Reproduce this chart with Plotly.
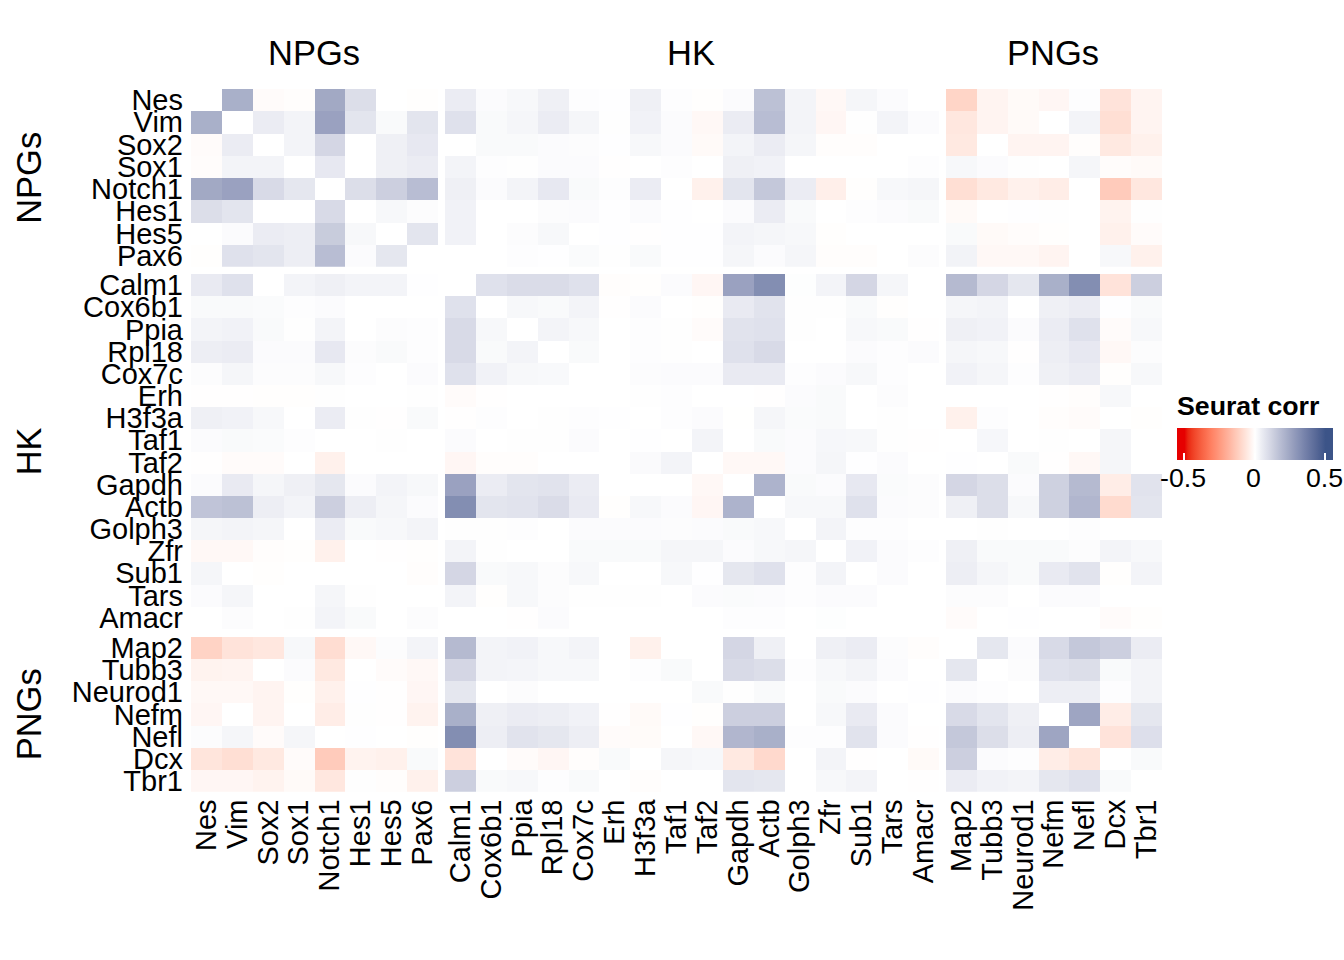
import numpy as np
import plotly.graph_objects as go

npgs = ["Nes","Vim","Sox2","Sox1","Notch1","Hes1","Hes5","Pax6"]
hk = ["Calm1","Cox6b1","Ppia","Rpl18","Cox7c","Erh","H3f3a","Taf1","Taf2","Gapdh","Actb","Golph3","Zfr","Sub1","Tars","Amacr"]
pngs = ["Map2","Tubb3","Neurod1","Nefm","Nefl","Dcx","Tbr1"]
group_names = ["NPGs","HK","PNGs"]
legend_title = "Seurat corr"
legend_ticks = [-0.5, 0, 0.5]
legend_ticklabels = ["-0.5","0","0.5"]

# correlation x 100, one list per gene
nes = [0,22,-1,-0.5,24,9,0,-0.3, 5,1,2,4,0.5,0.2,4,0.5, -0.3,1,17,3,-1.7,2.5,1,0, -10.5,-2.7,-1.3,-2.2,0.5,-7,-2.7]
vim = [22,0,5,3,26,7,1.5,7, 8,1.5,2.5,5,2.5,0.3,3.5,1, -1.7,5,18,3,-2.2,0.3,3,1, -6,-2.7,-1.3,0,3,-8,-2.7]
sox2 = [-1,5,0,3,11,0,4,6, 0,1.5,1.5,1,0.8,0.2,2,1, -1.3,3,5,2.5,-0.6,-0.6,0,0, -5.5,0,-2.7,-2.7,-0.6,-5.5,-3.5]
sox1 = [-0.8,3,3,0,6,0,4,5, 3,0.5,0.3,1,1,-0.2,0,0.5, 0,4,3.5,0,0,0,0,0.5, 2,1,0.3,0,2.5,-0.7,-1.3]
notch1 = [24,26,10,6.5,0,9,13,18, 4,1,3,6,1.5,0.5,5,0, -3.5,7,15,5,-4,-0.3,2,2.5, -8,-5.5,-3.5,-4.5,0,-13,-6]
hes1 = [9,7,0,0,10,0,2,0.8, 3.5,0,0,0.8,1,0.2,1,0.2, 0,1,5,1.5,0,0.5,1,1.5, -1.3,0,0.2,0.3,0,-3,0.3]
hes5 = [0,1,5,4.5,14,2,0,7, 3.5,0,0.7,2,0,0.2,-0.2,0.2, 0.2,3,2.5,2,-0.3,0,0,0, 1.5,-1.3,-0.7,-0.3,0,-3.5,-0.9]
pax6 = [-0.3,8,7,4.5,18,1,6.5,0, 0,0,0.5,0.2,1.2,0.3,1.5,0.2, 0.2,2.5,1,2.5,-0.5,-0.5,0,0.7, 3.2,-1.7,-1.7,-2.7,0,2,-3.5]
calm1 = [5.5,8,0,3,4,3,3,0.2, 0,8,9.5,9.5,8,-0.5,-0.3,1, -2.2,26,32,0.4,3,11,2.5,0, 19,11,6.5,22,32,-7,13]
cox6b1 = [1.5,1.5,1.2,0.5,1,0,0,0, 8,0,2,1.5,3,-0.2,1,0, -0.3,5.5,7.5,0.3,0.3,1.5,-0.3,0, 2.5,3,0,4,5,0.2,1.5]
ppia = [3,3.5,1.5,0.3,3,0,0.8,0.5, 10,2,0,3,2,0,0.5,0.3, -0.9,7.5,8,0.3,0,2,1.5,-0.2, 4,3.5,1,5,8,-0.9,2]
rpl18 = [4.5,5,1,1,6,0.7,1.5,0.5, 10,1.5,3,0,1.5,0,0.5,0.3, 0,8,10,0,0,1,0.5,1, 2.5,2,-0.2,4.5,6,-1.7,0.7]
cox7c = [0.8,2.5,0.8,0.7,2,0.5,0,1, 8,3.5,2,1.7,0,0,0.8,1, 1,5.5,5.5,0.5,1,2,0.5,0, 3.5,2.5,0.5,4,5,-0.3,2]
erh = [-0.2,-0.2,-0.3,-0.3,0.3,0,0,0.3, -0.9,-0.2,0,0,0,0,0.3,0.5, 0,0,-0.2,1,1.5,0,0.7,0, 0,0,0,-0.2,-0.5,2,0]
h3f3a = [4,3.5,2,0,5,0.3,-0.2,1.5, -0.2,0.5,0,0.3,0.5,0.2,0,0.5, 1,-0.1,2.5,1.2,1.5,0,0.3,0, -3.5,0.5,0,-0.6,-0.9,0,-0.3]
taf1 = [1,1.5,1.2,0.5,0,0,0.3,0, 1,0,0.3,0.3,1,0,0.2,0, 3,0,1.5,1,2.2,2,0.3,-0.2, 0,2.2,0,0.3,0,2.5,0]
taf2 = [-0.2,-0.9,-0.9,0,-3.5,0,0,0, -2.2,-0.5,-0.6,0,0,0,1.3,3, 0,-1.7,-1.7,1,2.5,0.2,1,0, 0.2,0,1.5,-0.2,-1.7,2.5,0]
gapdh = [1,5.5,2.5,4,6.5,1,3,2, 26,5,7,7.5,5,0,0,0, -1.7,0,21,1.5,1,6,1.2,0.8, 11,9,1,12.5,19,-4.5,7.5]
actb = [16,17,4.5,3,13,4.5,2.5,1, 32,7,7.5,9.5,5.5,-0.3,2,1, -2.2,21,0,2,2,8,1,0.7, 4,9,2,12.5,20,-9,7]
golph3 = [2.5,3,2.5,0,5,1.5,2,3, 0.3,0.3,0.5,0,1,1,1,0.8, 1,1.5,2,0,3,0.5,0.5,0, 0,0.3,0,0,0.5,0,0]
zfr = [-1.7,-1.7,-0.5,-0.3,-3.5,0,-0.2,-0.3, 3,0.3,0,0,1.5,1.5,1.5,2.5, 2.5,1,2,2.5,0,3.5,1,0.5, 4,1.5,1.5,1.5,0.7,3,2]
sub1 = [2.5,0,-0.3,0,0,0,0,-0.5, 11,1.5,2,0.7,2,0,0,2, 0.2,6.5,8,0.6,3,0,1,0, 4.5,2.5,1.5,5.5,7.5,-0.3,3]
tars = [1,2.5,0,0,2.5,0.3,0,0, 3,-0.3,2,0.7,0.3,0.3,0.3,0, 1,1.2,1,0.5,1,1,0,0, 0.7,0.8,0,1,1,0,0]
amacr = [0,0.8,0,0.3,3,1.5,0,0.7, 0,0,-0.2,1,0,0,0,0, 0,0.5,0.5,0,0.4,0,0,0, -0.9,0,0.2,0,0,-0.9,-0.3]
map2 = [-11,-7,-6,2,-8.5,-1.7,0.8,3, 19,3,3.5,2,3,0,-3.5,0, 0,11,4,0,4,5,0.8,-0.6, 0,6.5,1,10,15,13,5]
tubb3 = [-3,-2.7,0,1,-5.5,0,-0.9,-1.7, 11,3,2.7,2,2,0,0.5,1.5, 0,10,9,0.5,2,3,1,0, 6.5,0,0.8,8,9,1.5,3]
neurod1 = [-1.7,-1.7,-2.7,-0.3,-3.5,0.2,-0.2,-2.2, 6.5,0,0.7,0,0,0,0,0, 1.5,0.3,1.5,0,1.5,1,0,0.2, 1,0.5,0,4.5,4.5,0.5,3]
nefm = [-2.2,0,-2.7,0,-4.5,0.3,-0.2,-3, 22,4,5,4.5,3.5,-0.2,-1.3,0.2, -0.3,13,13,0,2,5.5,1,0, 10,7,4,0,25,-4.5,6.5]
nefl = [0.7,2.5,-0.9,2.5,0,0.2,0,-0.3, 32,4.5,7.5,6.5,4.5,-0.9,-1.1,0, -1.7,20,22,0.5,0.5,7.5,1,-0.2, 15,9,4.5,25,0,-7,8.5]
dcx = [-6.5,-8,-5.5,-0.9,-13,-3,-3.5,1.5, -7,0,-0.9,-2.2,-0.5,1.5,0,2.5, 2,-5.5,-9.5,0,3,-0.2,0,-1.3, 13,1,0.6,-4.5,-6.5,0,1.5]
tbr1 = [-2.2,-2.2,-3,-1.3,-6,0.3,-0.5,-3.5, 13,1.5,2,0.5,1.5,0,-0.5,0, 0,7,6.5,0,2,3,0,-0.2, 5,3.5,3,6.5,8,1.5,0]

rows = [nes,vim,sox2,sox1,notch1,hes1,hes5,pax6,calm1,cox6b1,ppia,rpl18,cox7c,erh,h3f3a,taf1,
        taf2,gapdh,actb,golph3,zfr,sub1,tars,amacr,map2,tubb3,neurod1,nefm,nefl,dcx,tbr1]
Z = np.array(rows, dtype=float) / 100.0
groups = [npgs, hk, pngs]

W, H = 1344, 960
FONT = "Liberation Sans"
X_PX = [(191, 438), (445, 939), (946, 1162)]
Y_PX = [(89, 266.7), (274, 628.7), (637, 791.7)]
CB_L, CB_R, CB_T, CB_B = 1176.5, 1332.5, 428.5, 460.5
CB_SHIFT = 6.5  # plotly keeps this much room under a horizontal bar
ZLIM = 0.553


# colour scale: white midpoint, interpolated in Lab space, flat beyond +-0.5
def _rgb2lab(c):
    c = np.array(c) / 255.0
    c = np.where(c > 0.04045, ((c + 0.055) / 1.055) ** 2.4, c / 12.92)
    m = np.array([[0.4124, 0.3576, 0.1805], [0.2126, 0.7152, 0.0722], [0.0193, 0.1192, 0.9505]])
    xyz = m @ c / np.array([0.95047, 1.0, 1.08883])
    f = np.where(xyz > 0.008856, np.cbrt(xyz), 7.787 * xyz + 16 / 116)
    return np.array([116 * f[1] - 16, 500 * (f[0] - f[1]), 200 * (f[1] - f[2])])


def _lab2rgb(lab):
    fy = (lab[0] + 16) / 116
    f = np.array([fy + lab[1] / 500, fy, fy - lab[2] / 200])
    xyz = np.where(f ** 3 > 0.008856, f ** 3, (f - 16 / 116) / 7.787) * np.array([0.95047, 1.0, 1.08883])
    m = np.array([[3.2406, -1.5372, -0.4986], [-0.9689, 1.8758, 0.0415], [0.0557, -0.2040, 1.0570]])
    c = np.clip(m @ xyz, 0, 1)
    c = np.where(c > 0.0031308, 1.055 * c ** (1 / 2.4) - 0.055, 12.92 * c)
    return "rgb(%d,%d,%d)" % tuple(np.round(c * 255))


low, mid, high = (230, 0, 0), (255, 255, 255), (60, 84, 136)
stops = [[0, _lab2rgb(_rgb2lab(low))]]
for v in np.linspace(-0.5, 0.5, 41):
    end = low if v < 0 else high
    t = abs(v) / 0.5
    col = _lab2rgb(_rgb2lab(mid) * (1 - t) + _rgb2lab(end) * t)
    stops.append([(v + ZLIM) / (2 * ZLIM), col])
stops.append([1, _lab2rgb(_rgb2lab(high))])

fig = go.Figure()
offs = np.cumsum([0, len(npgs), len(hk)])
for r, rg in enumerate(groups):
    for c, cg in enumerate(groups):
        sub = Z[offs[r]:offs[r] + len(rg), offs[c]:offs[c] + len(cg)]
        fig.add_trace(go.Heatmap(
            z=sub, x=cg, y=rg, coloraxis="coloraxis",
            xaxis="x" if c == 0 else f"x{c+1}",
            yaxis="y" if r == 0 else f"y{r+1}",
            hovertemplate="%{y} / %{x}: %{z}<extra></extra>"))

layout = dict(
    width=W, height=H, autosize=False,
    margin=dict(l=0, r=0, t=0, b=0, autoexpand=False),
    paper_bgcolor="white", plot_bgcolor="white",
    font=dict(family=FONT, size=29, color="black"),
    coloraxis=dict(
        cmin=-ZLIM, cmax=ZLIM, colorscale=stops,
        colorbar=dict(
            orientation="h", x=CB_L / W, xanchor="left",
            y=1 - (CB_B + CB_SHIFT) / H, yanchor="bottom", yref="paper",
            lenmode="pixels", len=CB_R - CB_L,
            thicknessmode="pixels", thickness=CB_B - CB_T,
            xpad=0, ypad=0, outlinewidth=0, borderwidth=0,
            tickmode="array", tickvals=legend_ticks, ticktext=legend_ticklabels,
            ticks="inside", ticklen=7, tickwidth=2, tickcolor="white",
            showticklabels=False,
        )),
)
for i, (x0, x1) in enumerate(X_PX):
    name = "xaxis" if i == 0 else f"xaxis{i+1}"
    layout[name] = dict(domain=[x0 / W, x1 / W], anchor="y3", type="category",
                        categoryorder="array", categoryarray=groups[i],
                        tickmode="array", tickvals=groups[i], ticktext=groups[i],
                        tickangle=-90, ticks="", showgrid=False, zeroline=False, showline=False,
                        ticklabelstandoff=1, tickfont=dict(family=FONT, size=29, color="black"))
for i, (y0, y1) in enumerate(Y_PX):
    name = "yaxis" if i == 0 else f"yaxis{i+1}"
    layout[name] = dict(domain=[1 - y1 / H, 1 - y0 / H], anchor="x", type="category",
                        categoryorder="array", categoryarray=groups[i], autorange="reversed",
                        tickmode="array", tickvals=groups[i], ticktext=groups[i],
                        ticks="", showgrid=False, zeroline=False, showline=False,
                        ticklabelstandoff=7, tickfont=dict(family=FONT, size=29, color="black"))
fig.update_layout(**layout)

# group titles, above the columns and left of the rows
for name, (x0, x1), (y0, y1) in zip(group_names, X_PX, Y_PX):
    fig.add_annotation(text=name, x=((x0 + x1) / 2 - 1) / W, y=1 - 53 / H, xref="paper", yref="paper",
                       showarrow=False, xanchor="center", yanchor="middle",
                       font=dict(family=FONT, size=34.5, color="black"))
    fig.add_annotation(text=name, x=29 / W, y=1 - (y0 + y1) / 2 / H, xref="paper", yref="paper",
                       textangle=-90, showarrow=False, xanchor="center", yanchor="middle",
                       font=dict(family=FONT, size=34.5, color="black"))

# legend title and tick labels
fig.add_annotation(text=f"<b>{legend_title}</b>", x=1175 / W, y=1 - 406 / H, xref="paper", yref="paper",
                   showarrow=False, xanchor="left", yanchor="middle",
                   font=dict(family=FONT, size=26.7, color="black"))
for v, lab in zip(legend_ticks, legend_ticklabels):
    px = CB_L + (v + ZLIM) / (2 * ZLIM) * (CB_R - CB_L)
    fig.add_annotation(text=lab, x=(px - 1) / W, y=1 - 478 / H, xref="paper", yref="paper",
                       showarrow=False, xanchor="center", yanchor="middle",
                       font=dict(family=FONT, size=26.7, color="black"))
    # upper halves of the white legend ticks
    fig.add_shape(type="line", xref="paper", yref="paper", x0=px / W, x1=px / W,
                  y0=1 - CB_T / H, y1=1 - (CB_T + 7) / H, line=dict(color="white", width=2))

fig.write_html("out.html", config=dict(displayModeBar=False),
               post_script="document.body.style.margin='0';")
